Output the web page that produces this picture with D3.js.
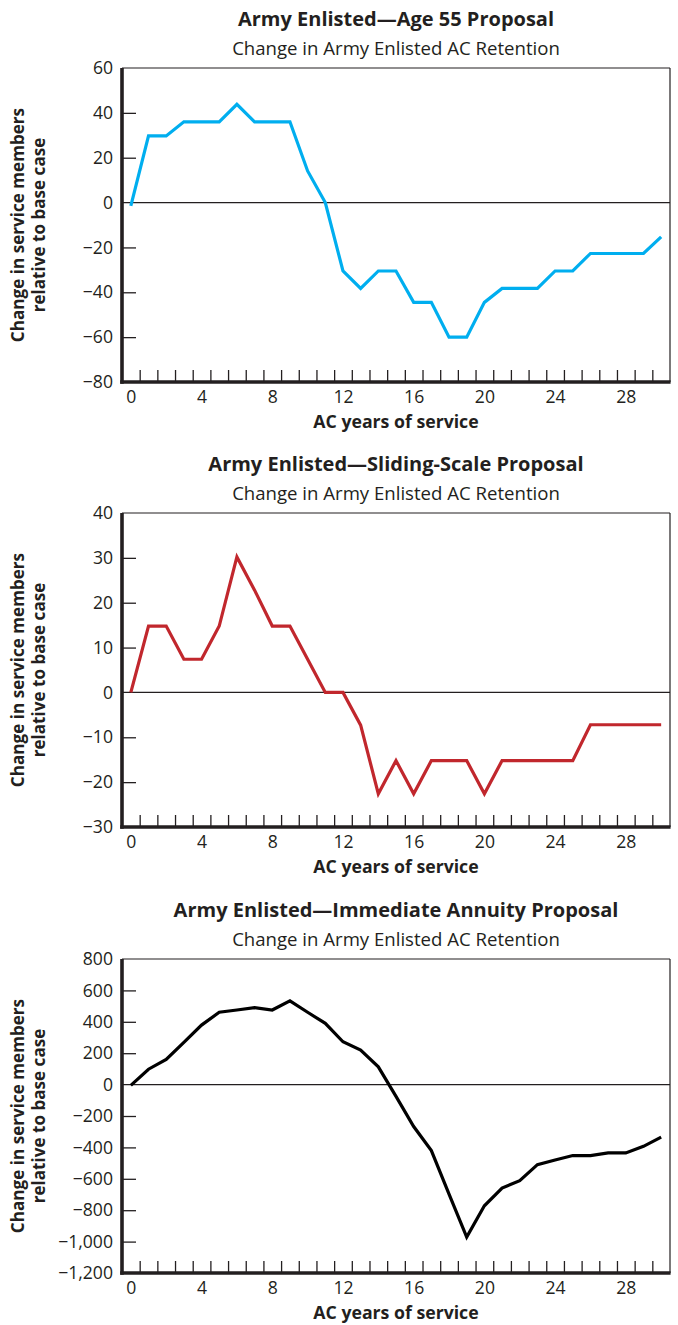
<!DOCTYPE html>
<html>
<head>
<meta charset="utf-8">
<script src="https://cdn.jsdelivr.net/npm/d3@7"></script>
<style>
  html, body { margin: 0; padding: 0; background: #fff; }
  svg { display: block; }
  text { font-family: "Open Sans", "Noto Sans", sans-serif; fill: #231f20; }
</style>
</head>
<body>
<svg id="chart" width="678" height="1325"></svg>
<script>
// ---------- DATA ----------
const years = [0,1,2,3,4,5,6,7,8,9,10,11,12,13,14,15,16,17,18,19,20,21,22,23,24,25,26,27,28,29,30];

const age55Values = [-1.5, 29.7, 29.7, 36, 36, 36, 43.8, 36, 36, 36, 14.1, 0, -30.5, -38.3, -30.5, -30.5,
  -44.5, -44.5, -60, -60, -44.5, -38.3, -38.3, -38.3, -30.5, -30.5, -22.7, -22.7, -22.7, -22.7, -15.3];

const slidingValues = [0, 14.8, 14.8, 7.4, 7.4, 14.8, 30.2, 22.8, 14.8, 14.8, 7.4, 0, 0, -7.3, -22.6, -15.2,
  -22.6, -15.2, -15.2, -15.2, -22.6, -15.2, -15.2, -15.2, -15.2, -15.2, -7.2, -7.2, -7.2, -7.2, -7.2];

const annuityValues = [-5, 98, 160, 269, 379, 461, 475, 490, 475, 533, 461, 390, 273, 220, 113, -75,
  -267, -420, -698, -971, -772, -659, -612, -510, -480, -452, -452, -435, -435, -393, -335];

const xTickLabels = [0, 4, 8, 12, 16, 20, 24, 28];
const xTickMarks = [0.5,1.5,2.5,3.5,4.5,5.5,6.5,7.5,8.5,9.5,10.5,11.5,12.5,13.5,14.5,15.5,16.5,17.5,18.5,19.5,
  20.5,21.5,22.5,23.5,24.5,25.5,26.5,27.5,28.5,29.5];

const age55Ticks = [60, 40, 20, 0, -20, -40, -60, -80];
const slidingTicks = [40, 30, 20, 10, 0, -10, -20, -30];
const annuityTicks = [800, 600, 400, 200, 0, -200, -400, -600, -800, -1000, -1200];

const titles = ["Army Enlisted\u2014Age 55 Proposal", "Army Enlisted\u2014Sliding-Scale Proposal", "Army Enlisted\u2014Immediate Annuity Proposal"];
const subtitle = "Change in Army Enlisted AC Retention";
const xTitle = "AC years of service";
const yTitleLines = ["Change in service members", "relative to base case"];

// ---------- LAYOUT ----------
const svg = d3.select("#chart");
const left = 122, right = 670, plotH = 314;
const tops = [68, 513, 959];
const tickFont = 17.6;

const fmt = v => d3.format(",")(v).replace("-", "\u2212");
const panels = [
  { values: age55Values, ticks: age55Ticks, color: "#00aeef" },
  { values: slidingValues, ticks: slidingTicks, color: "#c1272d" },
  { values: annuityValues, ticks: annuityTicks, color: "#000000" }
];

const x = d3.scaleLinear().domain([-0.5, 30.5]).range([left, right]);

panels.forEach((p, i) => {
  const top = tops[i], bottom = top + plotH;
  const y = d3.scaleLinear().domain([d3.min(p.ticks), d3.max(p.ticks)]).range([bottom, top]);
  const g = svg.append("g");

  // titles
  g.append("text").attr("x", (left + right) / 2).attr("y", top - 42)
    .attr("text-anchor", "middle").attr("font-weight", "bold").attr("font-size", 20)
    .text(titles[i]);
  g.append("text").attr("x", (left + right) / 2).attr("y", top - 13)
    .attr("text-anchor", "middle").attr("font-size", 18.6)
    .text(subtitle);

  // frame top/right
  g.append("line").attr("x1", left).attr("x2", right).attr("y1", top).attr("y2", top)
    .attr("stroke", "#231f20").attr("stroke-width", 1.2);
  g.append("line").attr("x1", right).attr("x2", right).attr("y1", top).attr("y2", bottom)
    .attr("stroke", "#231f20").attr("stroke-width", 1.2);

  // zero line
  g.append("line").attr("x1", left).attr("x2", right).attr("y1", y(0)).attr("y2", y(0))
    .attr("stroke", "#231f20").attr("stroke-width", 1.2);

  // y axis
  const yAxis = g.append("g").attr("transform", `translate(${left},0)`)
    .call(d3.axisLeft(y).tickValues(p.ticks).tickSizeInner(-14).tickSizeOuter(0).tickPadding(9).tickFormat(fmt));
  yAxis.select(".domain").remove();
  yAxis.selectAll(".tick line").attr("stroke", "#231f20").attr("stroke-width", 1.3)
    .filter(d => d === d3.max(p.ticks) || d === d3.min(p.ticks) || d === 0).remove();
  yAxis.selectAll(".tick text").attr("font-size", tickFont).attr("fill", "#231f20")
    .attr("font-family", "'Open Sans', sans-serif");

  // x axis tick marks
  const xMarks = g.append("g").attr("transform", `translate(0,${bottom})`)
    .call(d3.axisBottom(x).tickValues(xTickMarks).tickSizeInner(-12).tickSizeOuter(0).tickFormat(""));
  xMarks.select(".domain").remove();
  xMarks.selectAll(".tick line").attr("stroke", "#231f20").attr("stroke-width", 1.3);

  // x axis labels
  const xLabs = g.append("g").attr("transform", `translate(0,${bottom})`)
    .call(d3.axisBottom(x).tickValues(xTickLabels).tickSize(0).tickPadding(9));
  xLabs.select(".domain").remove();
  xLabs.selectAll(".tick text").attr("font-size", tickFont).attr("fill", "#231f20")
    .attr("font-family", "'Open Sans', sans-serif");

  // thick left & bottom axes
  g.append("line").attr("x1", left).attr("x2", left).attr("y1", top).attr("y2", bottom + 1.8)
    .attr("stroke", "#231f20").attr("stroke-width", 3.6);
  g.append("line").attr("x1", left - 1.8).attr("x2", right + 0.6).attr("y1", bottom).attr("y2", bottom)
    .attr("stroke", "#231f20").attr("stroke-width", 3.6);

  // x title
  g.append("text").attr("x", (left + right) / 2).attr("y", bottom + 46)
    .attr("text-anchor", "middle").attr("font-weight", "bold").attr("font-size", 17.7)
    .text(xTitle);

  // y title
  const cy = (top + bottom) / 2;
  const yt = g.append("text").attr("transform", `translate(0,${cy}) rotate(-90)`)
    .attr("text-anchor", "middle").attr("font-weight", "bold").attr("font-size", 17.1);
  yt.append("tspan").attr("x", 0).attr("y", 24).text(yTitleLines[0]);
  yt.append("tspan").attr("x", 0).attr("y", 45).text(yTitleLines[1]);

  // data line
  const line = d3.line().x((d, j) => x(years[j])).y(d => y(d));
  g.append("path").datum(p.values).attr("d", line)
    .attr("fill", "none").attr("stroke", p.color).attr("stroke-width", 3.2)
    .attr("stroke-linejoin", "miter").attr("stroke-linecap", "butt");
});
</script>
</body>
</html>
